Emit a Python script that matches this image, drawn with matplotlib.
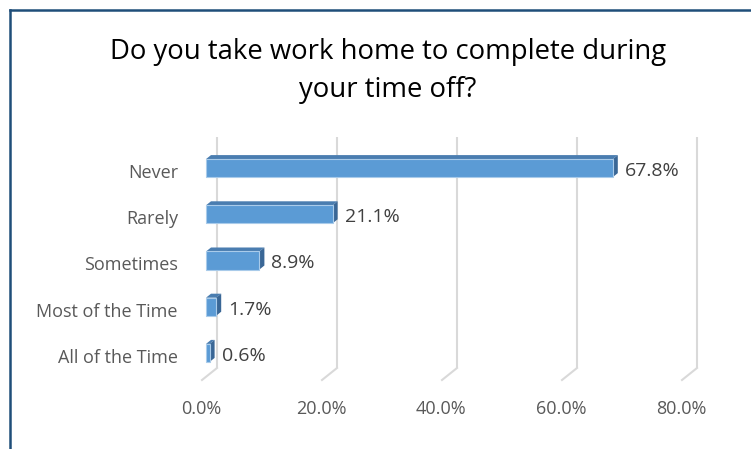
import matplotlib.pyplot as plt
from matplotlib.patches import Polygon
from matplotlib.lines import Line2D

categories = ['All of the Time', 'Most of the Time', 'Sometimes', 'Rarely', 'Never']
values = [0.6, 1.7, 8.9, 21.1, 67.8]
ticks = [0, 20, 40, 60, 80]
tick_labels = ['0.0%', '20.0%', '40.0%', '60.0%', '80.0%']
title = 'Do you take work home to complete during\nyour time off?'

W, H = 751, 449
plt.rcParams['font.family'] = ['Open Sans', 'DejaVu Sans']

fig = plt.figure(figsize=(W / 100, H / 100), dpi=100)
# plot area in pixels: front plane x 206..686, y 145..376
ax = fig.add_axes([206 / W, (H - 376) / H, 480 / W, 231 / H])
ax.set_xlim(0, 80)
ax.set_ylim(-0.5, 4.5)
ax.axis('off')

# pixel -> data scale
px_x = 80 / 480
px_y = 5 / 231

front = '#5B9BD5'
top_c = '#4A7DB0'
side_c = '#3A6796'
grid_c = '#D9D9D9'

# back wall gridlines and floor slant
for t in ticks:
    xb = t + 11 * px_x
    ax.plot([xb, xb], [-0.5 + 8 * px_y, 4.5 + 8 * px_y], color=grid_c, lw=1.5,
            clip_on=False, zorder=1, solid_capstyle='butt')
    ax.plot([xb, t - 4 * px_x], [-0.5 + 8 * px_y, -0.5 - 4 * px_y], color=grid_c,
            lw=1.5, clip_on=False, zorder=1)

h = 0.39
dx, dy = 5 * px_x, 4 * px_y
for i, v in enumerate(values):
    y0, y1 = i - h / 2, i + h / 2
    ax.add_patch(Polygon([(0, y1), (v, y1), (v + dx, y1 + dy), (dx, y1 + dy)],
                         closed=True, fc=top_c, ec='none', zorder=3, clip_on=False))
    ax.add_patch(Polygon([(v, y0), (v, y1), (v + dx, y1 + dy), (v + dx, y0 + dy)],
                         closed=True, fc=side_c, ec='none', zorder=3, clip_on=False))
    ax.barh(i, v, height=h, color=front, edgecolor='#A9CBEA', linewidth=0.8,
            zorder=4, clip_on=False)
    ax.text(v + 12 * px_x, i - 3 * px_y, f'{v:.1f}%', ha='left', va='center',
            fontsize=14, color='#404040')
    ax.text(-28 * px_x, i - 5 * px_y, categories[i], ha='right', va='center',
            fontsize=13, color='#595959')

for t, lab in zip(ticks, tick_labels):
    ax.text(t - 5 * px_x, -0.5 - 33 * px_y, lab, ha='center', va='center',
            fontsize=13, color='#595959')

fig.text(388 / W, 1 - 71 / H, title, ha='center', va='center', fontsize=19.8,
         color='#000000', linespacing=1.45)

# chart frame
fig.add_artist(Line2D([9.5 / W, 9.5 / W], [0, 1 - 9.5 / H], color='#1F4E79', lw=1.8))
fig.add_artist(Line2D([9.5 / W, 1], [1 - 9.5 / H, 1 - 9.5 / H], color='#1F4E79', lw=1.8))

fig.savefig('out.png', dpi=100)
